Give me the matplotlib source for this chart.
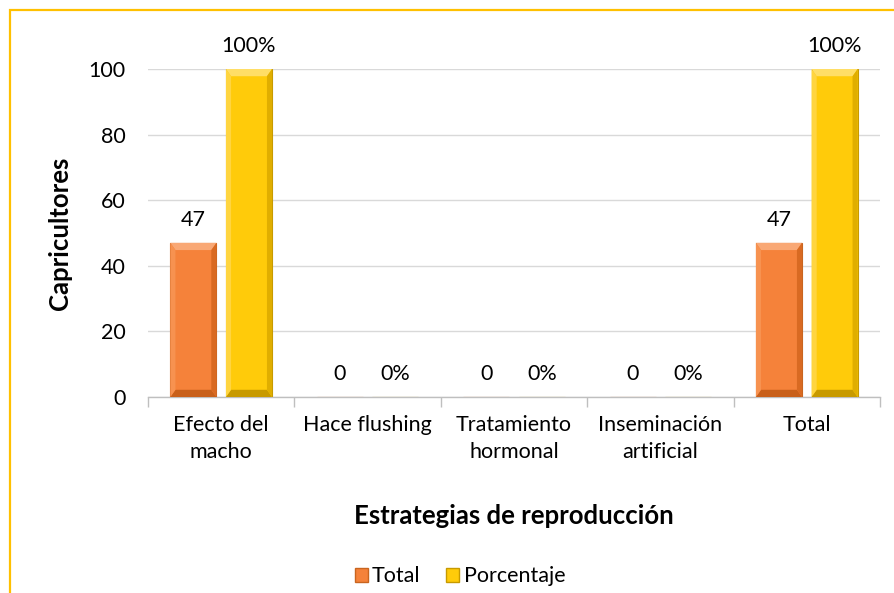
import matplotlib
matplotlib.use("Agg")
import matplotlib.pyplot as plt
from matplotlib.patches import Rectangle, Polygon, Patch
import numpy as np

categories = ["Efecto del\nmacho", "Hace flushing", "Tratamiento\nhormonal", "Inseminación\nartificial", "Total"]
total_vals = [47, 0, 0, 0, 47]
pct_vals = [100, 0, 0, 0, 100]
total_labels = ["47", "0", "0", "0", "47"]
pct_labels = ["100%", "0%", "0%", "0%", "100%"]
series_names = ["Total", "Porcentaje"]
yticks = [0, 20, 40, 60, 80, 100]

plt.rcParams['font.family'] = ['Lato', 'DejaVu Sans']

fig = plt.figure(figsize=(8.95, 5.93), dpi=100)
ax = fig.add_axes([148/895, 1-397/593, (880-148)/895, (397-69)/593])

x = np.arange(len(categories))
w = 0.315
off = 0.19
c_or = "#F5823A"
c_ye = "#FFCB0A"
b1 = ax.bar(x - off, total_vals, w, color=c_or, edgecolor="#C9651F", linewidth=0.8, zorder=3)
b2 = ax.bar(x + off, pct_vals, w, color=c_ye, edgecolor="#C79A00", linewidth=0.8, zorder=3)

def bevel(bars, light, dark, side_l, side_r):
    bx = 0.035
    by = 2.2
    for p in bars:
        x0, y0 = p.get_x(), p.get_y()
        ww, hh = p.get_width(), p.get_height()
        if hh <= 0:
            continue
        x1, y1 = x0 + ww, y0 + hh
        polys = [
            ([(x0, y1), (x1, y1), (x1 - bx, y1 - by), (x0 + bx, y1 - by)], light),
            ([(x0, y0), (x1, y0), (x1 - bx, y0 + by), (x0 + bx, y0 + by)], dark),
            ([(x0, y0), (x0 + bx, y0 + by), (x0 + bx, y1 - by), (x0, y1)], side_l),
            ([(x1, y0), (x1 - bx, y0 + by), (x1 - bx, y1 - by), (x1, y1)], side_r),
        ]
        for pts, col in polys:
            ax.add_patch(Polygon(pts, closed=True, facecolor=col, edgecolor="none", zorder=4))

bevel(b1, "#F9A875", "#C9601A", "#F79250", "#D96A22")
bevel(b2, "#FFDE66", "#C89A00", "#FFD540", "#E0AE00")

for p, lab in zip(b1, total_labels):
    ax.annotate(lab, (p.get_x() + p.get_width()/2, p.get_height()), xytext=(0, 9),
                textcoords="offset points", ha="center", va="bottom", fontsize=15.5, color="#000000", clip_on=False)
for p, lab in zip(b2, pct_labels):
    ax.annotate(lab, (p.get_x() + p.get_width()/2, p.get_height()), xytext=(0, 9),
                textcoords="offset points", ha="center", va="bottom", fontsize=15.5, color="#000000", clip_on=False)

ax.set_xlim(-0.5, len(categories) - 0.5)
ax.set_ylim(0, 100)
ax.set_yticks(yticks)
ax.set_yticklabels([str(v) for v in yticks], fontsize=15.5)
ax.yaxis.grid(True, color="#D9D9D9", linewidth=1, zorder=0)
ax.set_axisbelow(True)
ax.tick_params(axis='y', length=0, pad=16)

ax.set_xticks(x)
ax.set_xticklabels(categories, fontsize=15.5, linespacing=1.45)
ax.tick_params(axis='x', length=0, pad=13)
ax.set_xticks(np.arange(len(categories) + 1) - 0.5, minor=True)
ax.tick_params(axis='x', which='minor', length=7, color="#BFBFBF", width=1)

for s in ["top", "right", "left"]:
    ax.spines[s].set_visible(False)
ax.spines["bottom"].set_color("#BFBFBF")
ax.spines["bottom"].set_linewidth(1)

ax.set_ylabel("Capricultores", fontsize=18.5, fontweight="bold", labelpad=12)
ax.set_xlabel("Estrategias de reproducción", fontsize=18.5, fontweight="bold", labelpad=30)

handles = [Patch(facecolor=c_or, edgecolor="#C9651F"), Patch(facecolor=c_ye, edgecolor="#C79A00")]
fig.legend(handles, series_names, loc="center", bbox_to_anchor=(0.514, 0.028), ncol=2, frameon=False,
           fontsize=15.5, handlelength=0.6, handleheight=0.6, handletextpad=0.2, columnspacing=1.2)

fig.patches.append(Rectangle((10/895, -0.2), 1.2, 0.983 + 0.2, transform=fig.transFigure,
                             fill=False, edgecolor="#FFC000", linewidth=1.6))

fig.savefig("out.png", dpi=100)
